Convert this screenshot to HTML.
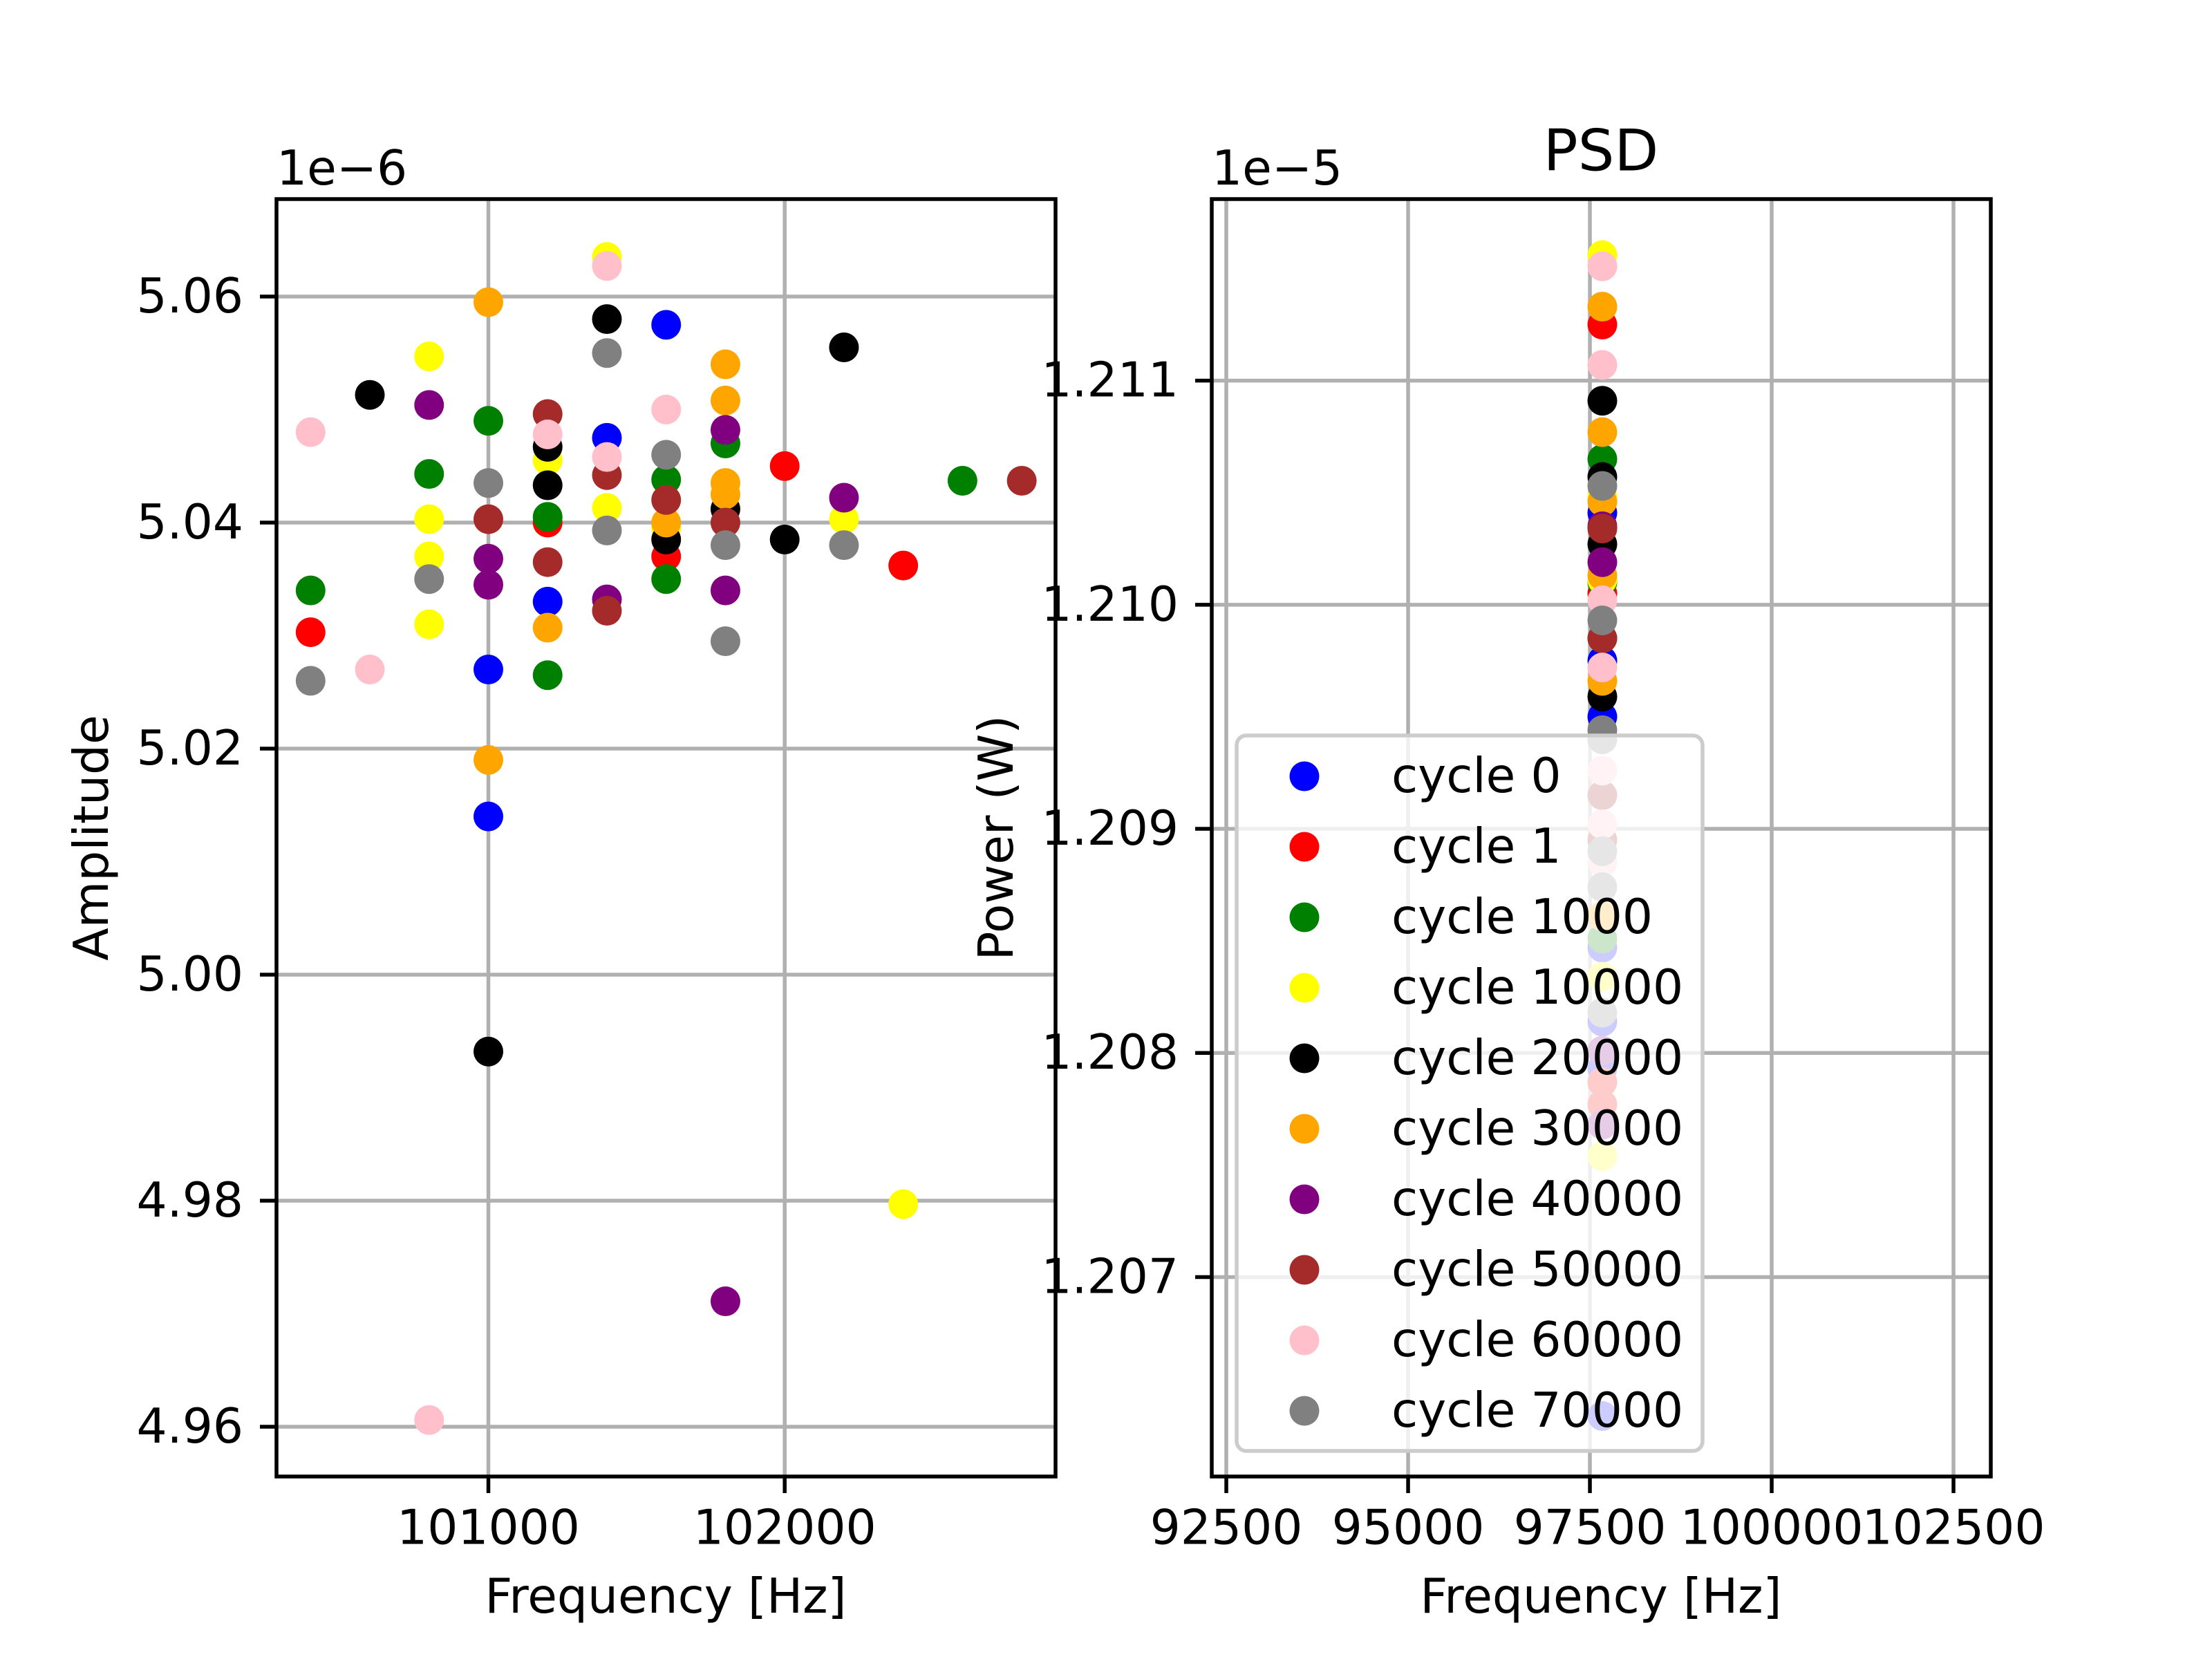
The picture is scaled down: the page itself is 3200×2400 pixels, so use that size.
<!DOCTYPE html>
<html><head><meta charset="utf-8"><style>
html,body{margin:0;padding:0;background:#fff}
svg{display:block}
text{font-family:"DejaVu Sans","Liberation Sans",sans-serif;fill:#000}
</style></head><body>
<svg id="fig" width="3200" height="2400" viewBox="0 0 3200 2400" xmlns="http://www.w3.org/2000/svg">
<rect x="0" y="0" width="3200" height="2400" fill="#fff"/>
<g id="left"></g>
<g id="right"></g>
</svg>
<script>
const seriesNames = ["cycle 0","cycle 1","cycle 1000","cycle 10000","cycle 20000","cycle 30000","cycle 40000","cycle 50000","cycle 60000","cycle 70000"];
const seriesColors = ["blue","red","green","yellow","black","orange","purple","brown","pink","gray"];
const ampFreq = [
 [101400,101600,101200,101000,101000],
 [100400,102000,102400,101200,101600],
 [100400,100800,101000,101200,101200,101600,101600,101800,102600],
 [101400,100800,100800,100800,100800,101200,101400,102200,102400,101600],
 [100600,101400,102200,101200,101200,101600,101800,102000,101000],
 [101000,101800,101800,101800,101800,101600,101200,101000],
 [100800,101000,101000,101400,101800,101800,102200,101800],
 [101200,101000,101200,101400,101400,101600,101800,102800],
 [100400,100600,101400,101600,101200,101400,100800],
 [100400,100800,101000,101400,101400,101600,101800,101800,102200]
];
const ampVals = [
 [5.0475,5.0575,5.033,5.027,5.014],
 [5.0303,5.045,5.0362,5.040,5.037],
 [5.034,5.0443,5.049,5.0405,5.0265,5.035,5.0438,5.047,5.0437],
 [5.0635,5.0547,5.0403,5.037,5.031,5.0455,5.0413,5.0403,4.9797,5.0395],
 [5.0513,5.058,5.0555,5.0467,5.0433,5.0385,5.0412,5.0385,4.9932],
 [5.0595,5.054,5.0508,5.0435,5.0425,5.040,5.0307,5.019],
 [5.0504,5.0368,5.0345,5.0332,5.0482,5.034,5.0422,4.9711],
 [5.0496,5.0403,5.0365,5.0442,5.0322,5.042,5.040,5.0437],
 [5.048,5.027,5.0627,5.050,5.0478,5.0458,4.9606],
 [5.026,5.035,5.0435,5.055,5.0393,5.046,5.038,5.0295,5.038]
];
const psdFreq = 97671;
const psdVals = [
 [1.21041,1.20975,1.2095,1.20847,1.20814,1.20793,1.20638],
 [1.21125,1.21005,1.20787,1.20777],
 [1.21065,1.2101,1.20985,1.20851],
 [1.21156,1.21048,1.21011,1.20834,1.20754],
 [1.21091,1.21057,1.21027,1.20959],
 [1.21133,1.21077,1.21046,1.21013,1.20966,1.20861],
 [1.21035,1.21019,1.2094,1.20801,1.20768],
 [1.21034,1.20985,1.20915,1.20895],
 [1.21151,1.21107,1.21002,1.20972,1.20926,1.20902,1.20885],
 [1.21053,1.20993,1.20944,1.2094,1.2089,1.20874,1.20818]
];
const leftXTicks = [101000,102000];
const leftXTickLabels = ["101000","102000"];
const leftYTicks = [4.96,4.98,5.00,5.02,5.04,5.06];
const leftYTickLabels = ["4.96","4.98","5.00","5.02","5.04","5.06"];
const rightXTicks = [92500,95000,97500,100000,102500];
const rightXTickLabels = ["92500","95000","97500","100000","102500"];
const rightYTicks = [1.207,1.208,1.209,1.210,1.211];
const rightYTickLabels = ["1.207","1.208","1.209","1.210","1.211"];

const NS="http://www.w3.org/2000/svg";
function mk(parent,tag,attrs,txt){const e=document.createElementNS(NS,tag);for(const k in attrs)e.setAttribute(k,attrs[k]);if(txt!==undefined)e.textContent=txt;parent.appendChild(e);return e;}
const FS=69.4, LW=5.5, TL=24;

function panel(g, box, xr, yr, xt, xtl, yt, ytl){
  const sx=v=>box.x0+(v-xr[0])/(xr[1]-xr[0])*(box.x1-box.x0);
  const sy=v=>box.y1-(v-yr[0])/(yr[1]-yr[0])*(box.y1-box.y0);
  const clipId='c'+Math.round(box.x0);
  const cp=mk(g,'clipPath',{id:clipId});
  mk(cp,'rect',{x:box.x0,y:box.y0,width:box.x1-box.x0,height:box.y1-box.y0});
  xt.forEach((t,i)=>{const x=sx(t);
    const gl=mk(g,'line',{x1:x,x2:x,y1:box.y0,y2:box.y1,stroke:'#b0b0b0','stroke-width':LW});
    
    
    mk(g,'line',{x1:x,x2:x,y1:box.y1,y2:box.y1+TL,stroke:'#000','stroke-width':LW});
    const tx=mk(g,'text',{x:x,y:box.y1+TL+24+FS*0.38,'font-size':FS,'text-anchor':'middle','dominant-baseline':'central'},xtl[i]);
    
    
  });
  yt.forEach((t,i)=>{const y=sy(t);
    const gl=mk(g,'line',{x1:box.x0,x2:box.x1,y1:y,y2:y,stroke:'#b0b0b0','stroke-width':LW});
    
    
    mk(g,'line',{x1:box.x0-TL,x2:box.x0,y1:y,y2:y,stroke:'#000','stroke-width':LW});
    const tx=mk(g,'text',{x:box.x0-TL-24,y:y,'font-size':FS,'text-anchor':'end','dominant-baseline':'central'},ytl[i]);
    
    
  });
  return {sx,sy,clipId};
}

// Left panel
const L=document.getElementById('left');
const lb={x0:400,x1:1527,y0:288,y1:2136};
const lp=panel(L,lb,[100285,102914],[4.9556,5.06862],leftXTicks,leftXTickLabels,leftYTicks,leftYTickLabels);
const lpts=mk(L,'g',{'clip-path':'url(#'+lp.clipId+')'});
ampVals.forEach((arr,s)=>{arr.forEach((v,i)=>{
  const c=mk(lpts,'circle',{cx:lp.sx(ampFreq[s][i]),cy:lp.sy(v),r:21.5,fill:seriesColors[s]});
  
  
});});
let e;
e=mk(L,'rect',{x:lb.x0,y:lb.y0,width:lb.x1-lb.x0,height:lb.y1-lb.y0,fill:'none',stroke:'#000','stroke-width':LW});
e=mk(L,'text',{x:400,y:267,'font-size':FS},'1e\u22126');


e=mk(L,'text',{x:963,y:2310,'font-size':FS,'text-anchor':'middle','dominant-baseline':'central'},'Frequency [Hz]');


e=mk(L,'text',{x:133,y:1212,'font-size':FS,'text-anchor':'middle','dominant-baseline':'central',transform:'rotate(-90 133 1212)'},'Amplitude');



// Right panel
const R=document.getElementById('right');
const rb={x0:1753,x1:2880,y0:288,y1:2136};
const rp=panel(R,rb,[92300,103013],[1.20611,1.21181],rightXTicks,rightXTickLabels,rightYTicks,rightYTickLabels);
const rpts=mk(R,'g',{'clip-path':'url(#'+rp.clipId+')'});
psdVals.forEach((arr,s)=>{arr.forEach(v=>{
  const c=mk(rpts,'circle',{cx:rp.sx(psdFreq),cy:rp.sy(v),r:21.5,fill:seriesColors[s]});
  
  
});});
e=mk(R,'rect',{x:rb.x0,y:rb.y0,width:rb.x1-rb.x0,height:rb.y1-rb.y0,fill:'none',stroke:'#000','stroke-width':LW});
e=mk(R,'text',{x:1753,y:267,'font-size':FS},'1e\u22125');


e=mk(R,'text',{x:2316,y:218,'font-size':83,'text-anchor':'middle','dominant-baseline':'central'},'PSD');


e=mk(R,'text',{x:2316,y:2310,'font-size':FS,'text-anchor':'middle','dominant-baseline':'central'},'Frequency [Hz]');


e=mk(R,'text',{x:1442,y:1212,'font-size':FS,'text-anchor':'middle','dominant-baseline':'central',transform:'rotate(-90 1442 1212)'},'Power (W)');



// Legend
const lg=mk(R,'g',{});


mk(lg,'rect',{x:1789,y:1064,width:674,height:1035,rx:14,fill:'#fff','fill-opacity':0.8,stroke:'#cccccc','stroke-width':5.5});
seriesNames.forEach((n,i)=>{
  const y=1123+i*102;
  const ent=mk(lg,'g',{});
  
  
  mk(ent,'circle',{cx:1887,cy:y,r:21.5,fill:seriesColors[i]});
  mk(ent,'text',{x:2013,y:y,'font-size':FS,'dominant-baseline':'central'},n);
});
</script>
</body></html>
